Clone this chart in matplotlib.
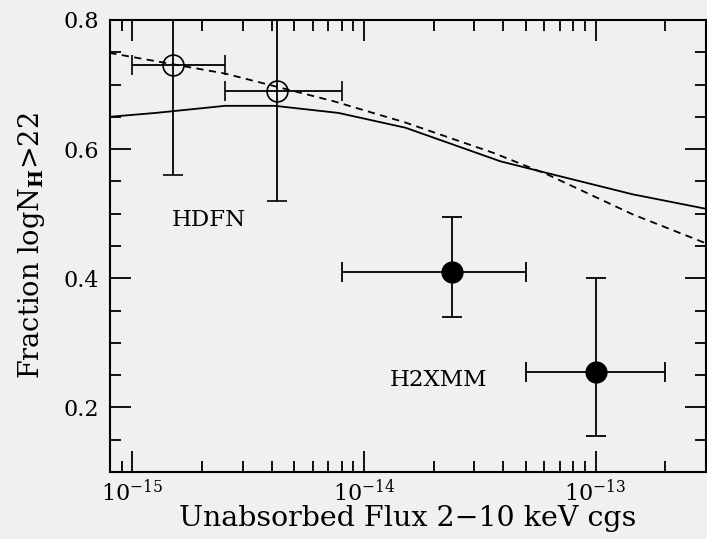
import matplotlib
matplotlib.use("Agg")
import matplotlib.pyplot as plt
import numpy as np
from matplotlib.ticker import MultipleLocator, FixedLocator, NullFormatter, FormatStrFormatter

# HDFN points (open circles)
hdfn_flux = [1.5e-15, 4.2e-15]
hdfn_frac = [0.73, 0.69]
hdfn_xlo = [1.0e-15, 2.5e-15]
hdfn_xhi = [2.5e-15, 8.0e-15]
hdfn_ylo = [0.56, 0.52]
hdfn_yhi = [0.90, 0.90]

# H2XMM points (filled circles)
xmm_flux = [2.4e-14, 1.0e-13]
xmm_frac = [0.41, 0.255]
xmm_xlo = [8.0e-15, 5.0e-14]
xmm_xhi = [5.0e-14, 2.0e-13]
xmm_ylo = [0.34, 0.155]
xmm_yhi = [0.495, 0.40]

# model curves (log flux, fraction)
solid_logf = [-15.10, -14.90, -14.60, -14.385, -14.11, -13.82, -13.41, -13.21, -12.84, -12.515]
solid_frac = [0.650, 0.656, 0.667, 0.667, 0.656, 0.633, 0.581, 0.563, 0.530, 0.507]
dash_logf = [-15.10, -14.60, -14.13, -13.82, -13.44, -13.21, -12.84, -12.515]
dash_frac = [0.749, 0.717, 0.674, 0.641, 0.594, 0.561, 0.499, 0.453]

xticks = [1e-15, 1e-14, 1e-13]
xtick_labels = [r"$10^{-15}$", r"$10^{-14}$", r"$10^{-13}$"]

bg = "#f0f0f0"
plt.rcParams["font.family"] = ["DejaVu Serif"]
plt.rcParams["mathtext.fontset"] = "dejavuserif"

fig = plt.figure(figsize=(7.07, 5.39), dpi=100, facecolor=bg)
ax = fig.add_axes([0.1556, 0.1243, 0.843, 0.8387], facecolor=bg)

ax.plot(10 ** np.array(solid_logf), solid_frac, color="black", lw=1.3)
ax.plot(10 ** np.array(dash_logf), dash_frac, color="black", lw=1.3, ls=(0, (4, 3)))


def errs(c, lo, hi):
    c = np.array(c)
    return [c - np.array(lo), np.array(hi) - c]


ax.errorbar(hdfn_flux, hdfn_frac,
            xerr=errs(hdfn_flux, hdfn_xlo, hdfn_xhi),
            yerr=errs(hdfn_frac, hdfn_ylo, hdfn_yhi),
            fmt="o", mfc="none", mec="black", ms=15, mew=1.2,
            ecolor="black", elinewidth=1.3, capsize=7, capthick=1.3)
ax.errorbar(xmm_flux, xmm_frac,
            xerr=errs(xmm_flux, xmm_xlo, xmm_xhi),
            yerr=errs(xmm_frac, xmm_ylo, xmm_yhi),
            fmt="o", mfc="black", mec="black", ms=15,
            ecolor="black", elinewidth=1.3, capsize=7, capthick=1.3)

ax.text(2.14e-15, 0.49, "HDFN", fontsize=16.5, ha="center", va="center")
ax.text(2.1e-14, 0.243, "H2XMM", fontsize=16.5, ha="center", va="center")

ax.set_xscale("log")
ax.set_xlim(8e-16, 3e-13)
ax.set_ylim(0.1, 0.8)

minor_x = [m * 10.0 ** e for e in (-16, -15, -14, -13) for m in range(2, 10)
           if 8e-16 <= m * 10.0 ** e <= 3e-13]
ax.xaxis.set_major_locator(FixedLocator(xticks))
ax.xaxis.set_minor_locator(FixedLocator(minor_x))
ax.xaxis.set_minor_formatter(NullFormatter())
ax.set_xticklabels(xtick_labels)
ax.yaxis.set_major_locator(MultipleLocator(0.2))
ax.yaxis.set_minor_locator(MultipleLocator(0.05))
ax.yaxis.set_major_formatter(FormatStrFormatter("%.1f"))

ax.tick_params(which="both", direction="in", top=True, right=True, width=1.3,
               labelsize=16, pad=8)
ax.tick_params(axis="x", which="major", pad=5)
ax.tick_params(which="major", length=15)
ax.tick_params(which="minor", length=8)
for s in ax.spines.values():
    s.set_linewidth(1.5)

ax.set_xlabel("Unabsorbed Flux 2\u221210 keV cgs", fontsize=20.5, labelpad=0)
ax.set_ylabel(r"Fraction logN$_{\mathbf{H}}$>22", fontsize=19.5, labelpad=12)

fig.savefig("out.png", dpi=100, facecolor=bg)
